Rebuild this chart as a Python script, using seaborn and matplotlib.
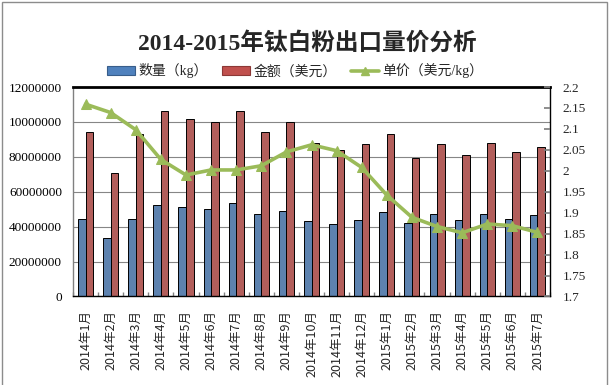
import numpy as np
import pandas as pd
import matplotlib
matplotlib.use("Agg")
import matplotlib.pyplot as plt
import seaborn as sns
from matplotlib.patches import Patch, Rectangle
from matplotlib.lines import Line2D

# data
months = ["2014年1月", "2014年2月", "2014年3月", "2014年4月", "2014年5月", "2014年6月",
          "2014年7月", "2014年8月", "2014年9月", "2014年10月", "2014年11月", "2014年12月",
          "2015年1月", "2015年2月", "2015年3月", "2015年4月", "2015年5月", "2015年6月",
          "2015年7月"]
quantity = [44200000, 33300000, 44200000, 52200000, 51000000, 49900000, 53300000,
            47000000, 48800000, 43000000, 41300000, 43600000, 48200000, 41900000,
            47000000, 43600000, 47000000, 44200000, 46500000]
amount = [94500000, 71000000, 93000000, 106500000, 101900000, 100200000, 106500000,
          94500000, 100200000, 88200000, 84200000, 87600000, 93300000, 79600000,
          87600000, 80800000, 88200000, 82700000, 85900000]
price = [2.159, 2.139, 2.098, 2.027, 1.990, 2.002, 2.002, 2.012, 2.045, 2.062,
         2.048, 2.008, 1.942, 1.889, 1.867, 1.852, 1.873, 1.869, 1.853]

left_ticks = [0, 20000000, 40000000, 60000000, 80000000, 100000000, 120000000]
left_labels = ["0", "20000000", "40000000", "60000000", "80000000", "10000000", "12000000"]
right_ticks = [1.7, 1.75, 1.8, 1.85, 1.9, 1.95, 2.0, 2.05, 2.1, 2.15, 2.2]

series_names = ["数量（kg）", "金额（美元）", "单价（美元/kg）"]
blue, red, green = "#4F81BD", "#C0504D", "#9BBB59"

df = pd.DataFrame({"month": months * 2,
                   "value": quantity + amount,
                   "series": [series_names[0]] * len(months) + [series_names[1]] * len(months)})

sns.set_theme(style="white")
plt.rcParams["font.family"] = ["Liberation Serif", "Noto Sans CJK SC"]
mixed = ["Liberation Serif", "Noto Sans CJK SC"]

fig = plt.figure(figsize=(6.14, 3.85), dpi=100)
ax = fig.add_axes([0.1189, 0.2299, 0.7769, 0.5441])

sns.barplot(data=df, x="month", y="value", hue="series",
            hue_order=series_names[:2], palette=[blue, red],
            width=0.6, edgecolor="black", linewidth=0.7,
            legend=False, ax=ax)

ax.set_ylim(0, 120000000)
ax.set_yticks(left_ticks)
ax.set_yticklabels(left_labels, fontsize=9.5, fontfamily="Liberation Serif")
ax.yaxis.grid(True, color="#868686", linewidth=0.8)
ax.set_axisbelow(True)
ax.tick_params(axis="y", length=0, pad=8, colors="black")
ax.set_xticks(range(len(months)))
ax.set_xticklabels(months, rotation=90, fontsize=9, fontfamily="Noto Sans CJK SC")
ax.tick_params(axis="x", length=0, pad=10)
ax.set_xticks(np.arange(len(months) + 1) - 0.5, minor=True)
ax.tick_params(axis="x", which="minor", direction="in", length=3, color="#808080", bottom=True)
ax.set_xlabel("")
ax.set_ylabel("")
for s in ax.spines.values():
    s.set_color("black")
    s.set_linewidth(1.0)
ax.spines["top"].set_linewidth(2.0)
ax.spines["left"].set_color("#808080")

ax2 = ax.twinx()
sns.lineplot(x=np.arange(len(months)), y=price, ax=ax2, color=green, linewidth=2.6,
             marker="^", markersize=7, markeredgecolor=green)
ax2.set_ylim(1.7, 2.2)
ax2.set_yticks(right_ticks)
ax2.set_yticklabels([f"{v:g}" for v in right_ticks], fontsize=9.5, fontfamily="Liberation Serif")
ax2.tick_params(axis="y", direction="in", length=4, pad=9, color="#808080", right=True)
ax2.set_ylabel("")
for s in ax2.spines.values():
    s.set_visible(False)
ax.set_xlim(-0.5, len(months) - 0.5)

fig.text(0.5, 0.888, "2014-2015年钛白粉出口量价分析", ha="center", va="center",
         fontsize=17, fontweight="bold", family=mixed)

handles = [Patch(facecolor=blue, edgecolor="#385D8A", linewidth=0.8),
           Patch(facecolor=red, edgecolor="#8C3836", linewidth=0.8),
           Line2D([0], [0], color=green, linewidth=2.6, marker="^", markersize=6)]
fig.legend(handles, series_names, loc="center", bbox_to_anchor=(0.481, 0.8156), ncol=3,
           frameon=False, prop={"family": mixed, "size": 10},
           handlelength=2.0, handleheight=0.55, handletextpad=0.25, columnspacing=1.05)

fig.patches.append(Rectangle((2 / 614, -0.02), 605 / 614, 1.0148, transform=fig.transFigure,
                             fill=False, edgecolor="#8C8C8C", linewidth=1.0))

fig.savefig("out.png", dpi=100)
